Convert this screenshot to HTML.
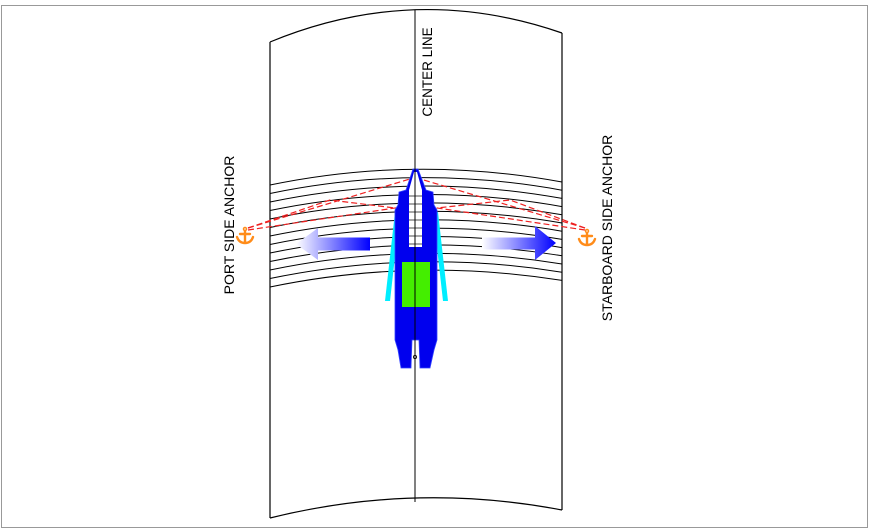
<!DOCTYPE html>
<html><head><meta charset="utf-8"><style>
html,body{margin:0;padding:0;background:#fff;}
svg{display:block;font-family:"Liberation Sans",sans-serif;}
</style></head><body>
<svg width="870" height="530" viewBox="0 0 870 530" xmlns="http://www.w3.org/2000/svg">
<defs>
<linearGradient id="gl" x1="0" x2="1" y1="0" y2="0"><stop offset="0" stop-color="#fff"/><stop offset="1" stop-color="#0000ff"/></linearGradient>
</defs>
<rect x="1.5" y="5.5" width="866" height="522" fill="#fff" stroke="#999" stroke-width="1"/>
<path d="M270 42 Q415 -18 562 33" fill="none" stroke="#000" stroke-width="1.2"/>
<path d="M270 518 Q415 482 562 510" fill="none" stroke="#000" stroke-width="1.2"/>
<line x1="270" y1="42" x2="270" y2="518" stroke="#000" stroke-width="1.2"/>
<line x1="562" y1="33" x2="562" y2="510" stroke="#000" stroke-width="1.2"/>
<line x1="415" y1="10" x2="415" y2="502" stroke="#000" stroke-width="1"/>
<g fill="none" stroke="#000" stroke-width="1">
<path d="M270 185 Q415 155 562 182"/>
<path d="M270 193.5 Q415 163.5 562 190.2"/>
<path d="M270 202 Q415 172 562 198.4"/>
<path d="M270 210.5 Q415 180.5 562 206.6"/>
<path d="M270 219 Q415 189 562 214.8"/>
<path d="M270 227.5 Q415 197.5 562 223"/>
<path d="M270 236 Q415 206 562 231.2"/>
<path d="M270 244.5 Q415 214.5 562 239.4"/>
<path d="M270 253 Q415 223 562 247.6"/>
<path d="M270 261.5 Q415 231.5 562 255.8"/>
<path d="M270 270 Q415 240 562 264"/>
<path d="M270 278.5 Q415 248.5 562 272.2"/>
<path d="M270 287 Q415 257 562 280.4"/>
</g>
<g fill="none" stroke="#ee2020" stroke-width="1.2" stroke-dasharray="6,3">
<path d="M248 228 L330 200 L395 208"/>
<path d="M248 230 L415 205"/>
<path d="M248 228 L413 178"/>
<path d="M585 228 L510 200 L437 208"/>
<path d="M585 230 L417 205"/>
<path d="M585 228 L417 178"/>
</g>
<polygon points="370,237.5 318,237.5 318,228 296,244 318,260 318,250.5 370,250.5" fill="url(#gl)"/>
<polygon points="482,237.5 535,237.5 535,226 556,243 535,260 535,249.5 482,249.5" fill="url(#gl)"/>
<polygon points="395,212 400,212 390,301 385,301" fill="#00eeff"/>
<polygon points="433,212 438,212 448,301 443,301" fill="#00eeff"/>
<path d="M413 169 L406 190 L399 192 L398 205 L395 210 L395 340 L398 350 L401 368 L411 368 L412 340 L419 340 L420 368 L430 368 L434 350 L437 340 L437 210 L434 205 L433 192 L426 190 L418 169 Z" fill="#0000ee" stroke="#3344ff" stroke-width="0.8"/>
<path d="M414 172 L409 190 L409 247 L422 247 L422 190 L417 172 Z" fill="#fff"/>
<g stroke="#000" stroke-width="0.7">
<line x1="409" y1="196" x2="422" y2="196"/><line x1="409" y1="204" x2="422" y2="204"/><line x1="409" y1="212" x2="422" y2="212"/><line x1="409" y1="220" x2="422" y2="220"/><line x1="409" y1="228" x2="422" y2="228"/><line x1="409" y1="236" x2="422" y2="236"/><line x1="409" y1="244" x2="422" y2="244"/></g>
<rect x="402" y="262" width="28" height="45" fill="#44ee00"/>
<line x1="415" y1="168" x2="415" y2="385" stroke="#000" stroke-width="1"/>
<circle cx="415" cy="357" r="1.6" fill="none" stroke="#000" stroke-width="0.8"/>
<g fill="none" stroke="#ff8c1a" stroke-width="2.4" stroke-linecap="round">
<circle cx="245" cy="229" r="1.5" stroke-width="1.5"/>
<path d="M245 231 V242 M240 234 H250 M237 237 Q239 243 245 243 Q251 243 253 237"/>
<circle cx="587" cy="231" r="1.5" stroke-width="1.5"/>
<path d="M587 233 V244 M582 236 H592 M579 239 Q581 245 587 245 Q593 245 595 239"/>
</g>
<text transform="translate(234 225) rotate(-90)" font-size="14" text-anchor="middle" fill="#000">PORT SIDE ANCHOR</text>
<text transform="translate(612 228) rotate(-90)" font-size="14" text-anchor="middle" fill="#000">STARBOARD SIDE ANCHOR</text>
<text transform="translate(432 72) rotate(-90)" font-size="13.5" text-anchor="middle" fill="#000">CENTER LINE</text>
</svg>
</body></html>
